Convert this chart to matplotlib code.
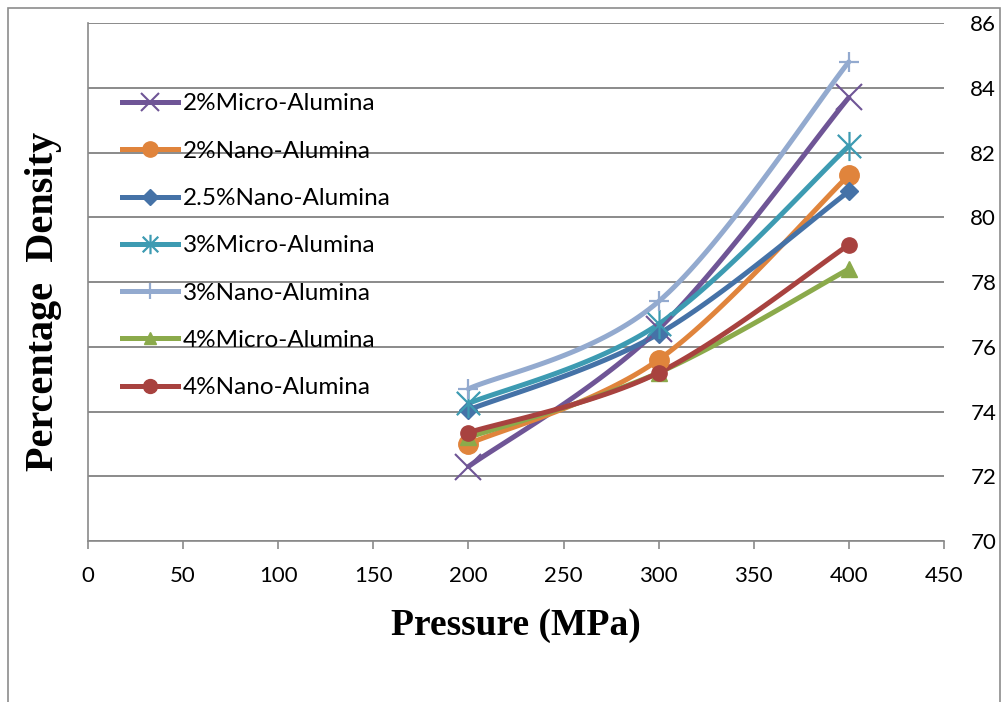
"""Percentage density vs compaction pressure for alumina-reinforced samples."""
import numpy as np
import matplotlib
matplotlib.use("Agg")
import matplotlib.pyplot as plt
from matplotlib.path import Path
from matplotlib.patches import Rectangle

pressure = [200, 300, 400]

series_names = [
    "2%Micro-Alumina",
    "2%Nano-Alumina",
    "2.5%Nano-Alumina",
    "3%Micro-Alumina",
    "3%Nano-Alumina",
    "4%Micro-Alumina",
    "4%Nano-Alumina",
]
micro_2 = [72.3, 76.55, 83.7]
nano_2 = [73.0, 75.6, 81.3]
nano_25 = [74.05, 76.4, 80.8]
micro_3 = [74.25, 76.7, 82.2]
nano_3 = [74.7, 77.4, 84.8]
micro_4 = [73.2, 75.2, 78.4]
nano_4 = [73.35, 75.2, 79.15]
values = [micro_2, nano_2, nano_25, micro_3, nano_3, micro_4, nano_4]

# x with a vertical bar through it
asterisk = Path(
    [(-1, -1), (1, 1), (-1, 1), (1, -1), (0, -1.25), (0, 1.25)],
    [Path.MOVETO, Path.LINETO, Path.MOVETO, Path.LINETO, Path.MOVETO, Path.LINETO],
)

colors = ["#6F5596", "#E0843C", "#4572A7", "#3D9BB2", "#93AACF", "#8BAA4B", "#A8423F"]
markers = ["x", "o", "D", asterisk, "+", "^", "o"]
msizes = [19, 14, 9, 21, 15, 11, 11]
leg_sizes = [13, 11, 8, 14, 11, 9, 10]
mews = [1.5, 1, 1, 1.6, 1.6, 1, 1]

x_ticks = list(range(0, 451, 50))
y_ticks = list(range(70, 87, 2))


def smooth(xs, ys, n=40):
    """Catmull-Rom style Bezier smoothing through the points."""
    pts = np.column_stack([xs, ys]).astype(float)
    ext = np.vstack([pts[0], pts, pts[-1]])
    out = []
    for i in range(1, len(ext) - 2):
        p0, p1, p2, p3 = ext[i - 1], ext[i], ext[i + 1], ext[i + 2]
        c1 = p1 + (p2 - p0) / 6.0
        c2 = p2 - (p3 - p1) / 6.0
        t = np.linspace(0, 1, n)[:, None]
        seg = ((1 - t) ** 3) * p1 + 3 * ((1 - t) ** 2) * t * c1 + 3 * (1 - t) * t ** 2 * c2 + t ** 3 * p2
        out.append(seg if i == 1 else seg[1:])
    seg = np.vstack(out)
    return seg[:, 0], seg[:, 1]


plt.rcParams["font.family"] = ["Lato", "DejaVu Sans"]

fig = plt.figure(figsize=(10.04, 7.02), dpi=100)
ax = fig.add_axes([0.0876, 0.2293, 0.8526, 0.7379])

# outer chart frame
fig.patches.append(Rectangle((0.008, -0.05), 0.988, 1.039, transform=fig.transFigure,
                             fill=False, edgecolor="#8C8C8C", linewidth=1.2))

handles = []
for name, ys, c, m, ms, lms, mew in zip(series_names, values, colors, markers,
                                        msizes, leg_sizes, mews):
    sx, sy = smooth(pressure, ys)
    ax.plot(sx, sy, color=c, linewidth=3.6, solid_capstyle="round", zorder=3)
    ax.plot(pressure, ys, linestyle="none", marker=m, markersize=ms, color=c,
            markeredgecolor=c, markeredgewidth=mew, zorder=4)
    h, = ax.plot([], [], color=c, linewidth=3.6, marker=m, markersize=lms,
                 markeredgecolor=c, markeredgewidth=mew, label=name)
    handles.append(h)

ax.set_xlim(0, 450)
ax.set_ylim(70, 86)
ax.set_xticks(x_ticks)
ax.set_yticks(y_ticks)
ax.yaxis.tick_right()
ax.grid(axis="y", color="#8A8A8A", linewidth=1.4)
ax.set_axisbelow(True)

for side in ["top", "right"]:
    ax.spines[side].set_visible(False)
for side in ["left", "bottom"]:
    ax.spines[side].set_color("#8A8A8A")
    ax.spines[side].set_linewidth(1.2)

ax.tick_params(axis="x", direction="out", length=6, width=1.2, color="#8A8A8A",
               labelsize=16, pad=12)
ax.tick_params(axis="y", length=0, labelsize=16, pad=19)

ax.set_xlabel("Pressure (MPa)", fontfamily="Liberation Serif", fontweight="bold",
              fontsize=27, labelpad=16)
fig.text(0.043, 0.57, "Percentage  Density", rotation=90, ha="center", va="center",
         fontfamily="Liberation Serif", fontweight="bold", fontsize=29)

ax.legend(handles=handles, loc="upper left", bbox_to_anchor=(0.0397, 0.864),
          frameon=False, fontsize=17.5, handlelength=2.3, handletextpad=0.2,
          labelspacing=1.08, borderpad=0, borderaxespad=0)

fig.savefig("out.png", dpi=100)
